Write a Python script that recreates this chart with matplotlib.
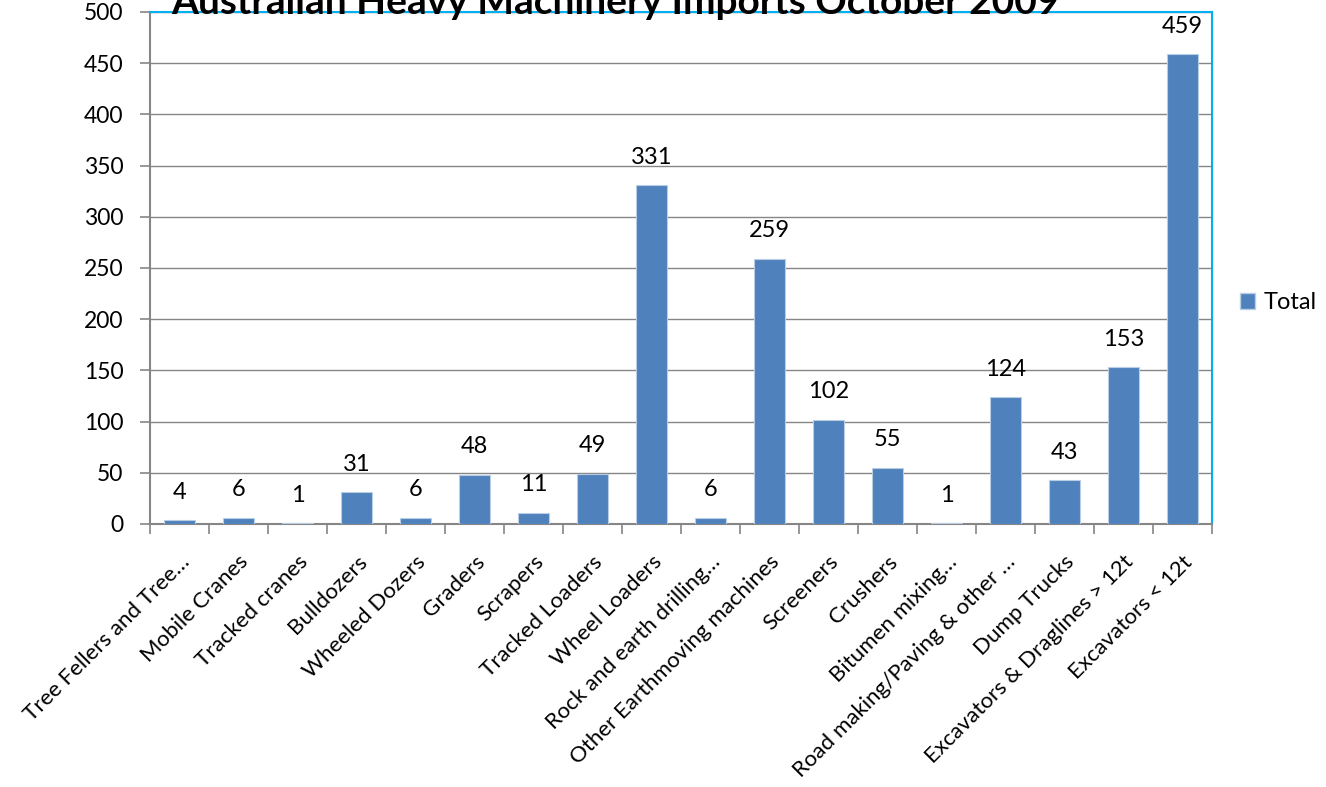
import matplotlib
matplotlib.use("Agg")
import matplotlib.pyplot as plt
from matplotlib.ticker import FixedLocator
from matplotlib.patches import Patch

plt.rcParams['font.family'] = ['Lato', 'DejaVu Sans']

categories = ["Tree Fellers and Tree…", "Mobile Cranes", "Tracked cranes", "Bulldozers",
              "Wheeled Dozers", "Graders", "Scrapers", "Tracked Loaders", "Wheel Loaders",
              "Rock and earth drilling…", "Other Earthmoving machines", "Screeners",
              "Crushers", "Bitumen mixing…", "Road making/Paving & other …", "Dump Trucks",
              "Excavators & Draglines > 12t", "Excavators < 12t"]
totals = [4, 6, 1, 31, 6, 48, 11, 49, 331, 6, 259, 102, 55, 1, 124, 43, 153, 459]
yticks = [0, 50, 100, 150, 200, 250, 300, 350, 400, 450, 500]
title = "Australian Heavy Machinery Imports October 2009"
series_name = "Total"

W, H = 1326, 787
fig = plt.figure(figsize=(W/100, H/100), dpi=100)
ax = fig.add_axes([150/W, 1-524/H, (1212-150)/W, (524-12)/H])

bar_color = "#4F81BD"
x = list(range(len(categories)))
ax.bar(x, totals, width=0.51, color=bar_color, edgecolor="#B9CDE5", linewidth=0.8, zorder=3)

for xi, v in zip(x, totals):
    ax.annotate(str(v), (xi, v), xytext=(0, 12.5), textcoords='offset points',
                ha='center', va='bottom', fontsize=17, color='black', zorder=4)

ax.set_xlim(-0.5, len(categories) - 0.5)
ax.set_ylim(0, 500)
ax.set_yticks(yticks)
ax.yaxis.grid(True, color='#868686', linewidth=1.0, zorder=0)
ax.set_axisbelow(True)

ax.set_xticks(x)
ax.set_xticklabels(categories, rotation=45, ha='right', rotation_mode='anchor', fontsize=16)
ax.tick_params(axis='x', which='major', length=0, pad=20)
ax.xaxis.set_minor_locator(FixedLocator([i - 0.5 for i in range(len(categories) + 1)]))
ax.tick_params(axis='x', which='minor', length=7, width=1.2, color='#868686')
ax.tick_params(axis='y', length=7, width=1.2, color='#868686', labelsize=16.5, pad=12)

for s in ['left', 'bottom']:
    ax.spines[s].set_color('#868686')
    ax.spines[s].set_linewidth(1.5)
for s in ['top', 'right']:
    ax.spines[s].set_color('#00B0F0')
    ax.spines[s].set_linewidth(1.5)

fig.text(615/W, 1-14/H, title, ha='center', va='baseline', fontsize=28, fontweight='bold')

fig.legend(handles=[Patch(facecolor=bar_color, edgecolor='#B9CDE5')], labels=[series_name],
           loc='center left', bbox_to_anchor=(1240/W, 1-303/H), frameon=False,
           fontsize=17, handlelength=0.65, handleheight=0.65, handletextpad=0.35,
           borderaxespad=0, borderpad=0)

fig.savefig("out.png", dpi=100)
